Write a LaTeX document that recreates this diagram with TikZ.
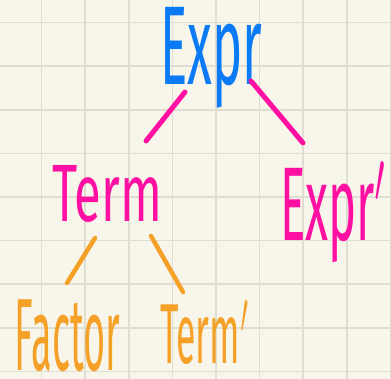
\documentclass[tikz,border=0pt]{standalone}
\usepackage{fontspec}
\setmainfont{Fira Sans}
\usetikzlibrary{calc}
\definecolor{paper}{HTML}{F8F6EA}
\definecolor{gridline}{HTML}{DFDED2}
\definecolor{inkblue}{HTML}{0A7BF5}
\definecolor{inkpink}{HTML}{FF10A3}
\definecolor{inkorange}{HTML}{F5A027}
\begin{document}
\begin{tikzpicture}[x=1pt,y=-1pt,
  word/.style={inner sep=0pt, outer sep=0pt},
  edge/.style={line width=5pt, line cap=round}]
% squared paper
\fill[paper] (0,0) rectangle (391,379);
\useasboundingbox (0,0) rectangle (391,379);
\foreach \k in {0,...,8} {
  \draw[gridline, line width=1.6pt] ({41.5+43.6*\k},0) -- ({41.5+43.6*\k},379);
  \draw[gridline, line width=1.6pt] (0,{22.7+43.6*\k}) -- (391,{22.7+43.6*\k});
}
% parse tree labels
\node[word, text=inkblue] (expr) at (211,57.5) {\resizebox*{102pt}{101pt}{Expr}};
\node[word, text=inkpink] (term) at (107,193.5) {\resizebox*{110pt}{57pt}{Term}};
\node[word, text=inkpink] (exprp) at (334,212.5) {\resizebox*{108pt}{101pt}{Expr$'$}};
\node[word, text=inkorange] (factor) at (67.5,336) {\resizebox*{105pt}{72pt}{Factor}};
\node[word, text=inkorange] (termp) at (205,332.5) {\resizebox*{90pt}{65pt}{Term$'$}};
% branches
\draw[edge, inkpink] ($(expr.south)+(-26,-16)$) -- ($(term.north)+(39,-24)$);
\draw[edge, inkpink] ($(expr.south)+(40,-27)$) -- ($(exprp.north)+(-31,-19)$);
\draw[edge, inkorange, line width=4.5pt] ($(term.south)+(-12,16)$) -- ($(factor.north)+(-0.5,-17)$);
\draw[edge, inkorange, line width=4.5pt] ($(term.south)+(44,14)$) -- ($(termp.north)+(-22,-8)$);
\end{tikzpicture}
\end{document}
